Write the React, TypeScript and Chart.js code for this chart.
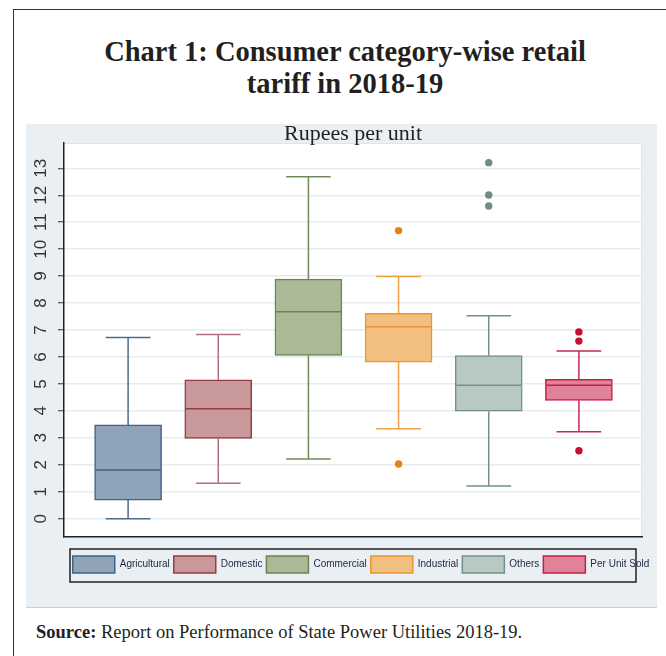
import React, { useEffect, useRef } from 'react';
import { Chart, registerables } from 'chart.js';

Chart.register(...registerables);

// ---- data ----
const categories = ['Agricultural', 'Domestic', 'Commercial', 'Industrial', 'Others', 'Per Unit Sold'];
const whiskerLow = [0.0, 1.31, 2.21, 3.34, 1.21, 3.23];
const quartile1 = [0.69, 2.98, 6.06, 5.81, 3.99, 4.39];
const medians = [1.81, 4.08, 7.68, 7.12, 4.95, 4.95];
const quartile3 = [3.48, 5.15, 8.89, 7.62, 6.05, 5.17];
const whiskerHigh = [6.72, 6.83, 12.69, 8.99, 7.53, 6.22];
const outliers: number[][] = [[], [], [], [10.69, 2.03], [13.21, 12.01, 11.6], [6.93, 6.59, 2.52]];
const yTickValues = [0, 1, 2, 3, 4, 5, 6, 7, 8, 9, 10, 11, 12, 13];
const yMin = -0.68;
const yMax = 13.94;

// ---- styles ----
const fillColors = ['#8fa4b9', '#c9989b', '#abb996', '#f1bf80', '#b8c8c2', '#e08398'];
const lineColors = ['#40618a', '#963b44', '#6b8551', '#ef9431', '#72918a', '#c81d47'];
const whiskerColors = ['#4c6c8e', '#b0737a', '#718b58', '#f0a044', '#72918a', '#c82a50'];
const outlierColors = ['#40618a', '#963b44', '#6b8551', '#e9800f', '#6e8d85', '#c4102f'];
const BOX_WIDTH = 67;

const plotBackground = {
  id: 'plotBackground',
  beforeDraw(chart: any) {
    const { ctx, chartArea: a } = chart;
    ctx.save();
    ctx.fillStyle = '#ffffff';
    ctx.fillRect(a.left, a.top, a.right - a.left, a.bottom - a.top);
    ctx.strokeStyle = '#dfe6ea';
    ctx.lineWidth = 1;
    ctx.beginPath();
    ctx.moveTo(a.left, a.top + 0.5);
    ctx.lineTo(a.right - 0.5, a.top + 0.5);
    ctx.lineTo(a.right - 0.5, a.bottom);
    ctx.stroke();
    ctx.restore();
  },
};

const boxWhiskers = {
  id: 'boxWhiskers',
  afterDatasetsDraw(chart: any) {
    const { ctx, scales } = chart;
    const xs = scales.x;
    const ys = scales.y;
    ctx.save();
    categories.forEach((_, i) => {
      const cx = xs.getPixelForValue(i);
      const half = BOX_WIDTH / 2;
      const capHalf = BOX_WIDTH / 3;
      ctx.lineWidth = 1.5;
      ctx.strokeStyle = whiskerColors[i];
      ctx.beginPath();
      ctx.moveTo(cx, ys.getPixelForValue(quartile3[i]));
      ctx.lineTo(cx, ys.getPixelForValue(whiskerHigh[i]));
      ctx.moveTo(cx - capHalf, ys.getPixelForValue(whiskerHigh[i]));
      ctx.lineTo(cx + capHalf, ys.getPixelForValue(whiskerHigh[i]));
      ctx.moveTo(cx, ys.getPixelForValue(quartile1[i]));
      ctx.lineTo(cx, ys.getPixelForValue(whiskerLow[i]));
      ctx.moveTo(cx - capHalf, ys.getPixelForValue(whiskerLow[i]));
      ctx.lineTo(cx + capHalf, ys.getPixelForValue(whiskerLow[i]));
      ctx.stroke();
      ctx.strokeStyle = lineColors[i];
      ctx.beginPath();
      ctx.moveTo(cx - half + 1, ys.getPixelForValue(medians[i]));
      ctx.lineTo(cx + half - 1, ys.getPixelForValue(medians[i]));
      ctx.stroke();
    });
    ctx.restore();
  },
};

const legendFrame = {
  id: 'legendFrame',
  afterLayout(chart: any) {
    const lg = chart.legend;
    if (lg) {
      lg.left += 27;
      lg.right += 27;
    }
  },
  afterDraw(chart: any) {
    const lg = chart.legend;
    const a = chart.chartArea;
    if (!lg) return;
    const { ctx } = chart;
    ctx.save();
    ctx.strokeStyle = '#222222';
    ctx.lineWidth = 1.5;
    ctx.strokeRect(a.left + 6, lg.top - 3, a.right - a.left - 12, 33);
    ctx.restore();
  },
};

export default function App() {
  const canvasRef = useRef<HTMLCanvasElement | null>(null);

  useEffect(() => {
    if (!canvasRef.current) return;
    const boxSets: any[] = categories.map((name, i) => ({
      type: 'bar',
      label: name,
      data: [{ x: i, y: [quartile1[i], quartile3[i]] }],
      backgroundColor: fillColors[i],
      borderColor: lineColors[i],
      borderWidth: 1.5,
      borderSkipped: false,
      grouped: false,
      barThickness: BOX_WIDTH,
      order: 2,
    }));
    const outlierSets: any[] = categories.map((name, i) => ({
      type: 'scatter',
      label: name + ' outliers',
      data: outliers[i].map((v) => ({ x: i, y: v })),
      backgroundColor: outlierColors[i],
      borderWidth: 0,
      pointRadius: 3.7,
      order: 1,
    }));

    const chart = new Chart(canvasRef.current, {
      type: 'bar',
      data: { datasets: [...boxSets, ...outlierSets] },
      options: {
        responsive: false,
        animation: false,
        events: [],
        layout: { padding: { left: 0, right: 15, top: 0, bottom: 24 } },
        scales: {
          x: {
            type: 'linear',
            min: -0.711,
            max: 5.7,
            offset: false,
            grid: { display: false, drawTicks: false },
            ticks: { display: false },
            border: { display: true, color: '#222222', width: 1.5 },
            afterFit: (scale: any) => {
              scale.height = 15;
            },
          },
          y: {
            type: 'linear',
            min: yMin,
            max: yMax,
            ticks: {
              stepSize: 1,
              minRotation: 90,
              maxRotation: 90,
              padding: 7,
              crossAlign: 'center',
              color: '#333333',
              font: { family: '"Liberation Sans", Arial, sans-serif', size: 17 },
            },
            grid: {
              color: '#e4ecf0',
              lineWidth: 1.5,
              drawTicks: true,
              tickLength: 6,
              tickColor: '#333333',
              tickWidth: 1,
            },
            border: { display: true, color: '#222222', width: 1.5 },
            afterBuildTicks: (scale: any) => {
              scale.ticks = yTickValues.map((v) => ({ value: v }));
            },
            afterFit: (scale: any) => {
              scale.width = 38;
            },
          },
        },
        plugins: {
          tooltip: { enabled: false },
          title: {
            display: true,
            text: 'Rupees per unit',
            fullSize: false,
            color: '#231f20',
            font: { family: '"Liberation Serif", serif', size: 22, weight: 'normal', lineHeight: '19px' },
            padding: { top: 1, bottom: -1 },
          },
          legend: {
            display: true,
            position: 'bottom',
            labels: {
              boxWidth: 42,
              boxHeight: 17,
              padding: 4,
              color: '#1f2540',
              font: { family: '"Liberation Sans", Arial, sans-serif', size: 10 },
              filter: (item: any) => item.datasetIndex < categories.length,
            },
          },
        },
      } as any,
      plugins: [plotBackground, boxWhiskers, legendFrame],
    });
    return () => chart.destroy();
  }, []);

  return (
    <div style={{ position: 'fixed', left: 0, top: 0, width: 666, height: 656, overflow: 'hidden', background: '#ffffff' }}>
      <div
        style={{
          position: 'absolute',
          left: 13,
          top: 9,
          width: 720,
          height: 720,
          borderLeft: '1.3px solid #333',
          borderTop: '1.3px solid #333',
        }}
      />
      <div
        style={{
          position: 'absolute',
          left: 0,
          top: 36,
          width: 690,
          textAlign: 'center',
          fontFamily: '"Liberation Serif", serif',
          fontWeight: 'bold',
          fontSize: 28.5,
          lineHeight: '32px',
          color: '#231f20',
        }}
      >
        Chart 1: Consumer category-wise retail
        <br />
        tariff in 2018-19
      </div>
      <div
        style={{
          position: 'absolute',
          left: 26,
          top: 124,
          width: 631,
          height: 483,
          background: '#e9eff2',
          borderBottom: '1px solid #c9cdd0',
        }}
      >
        <canvas ref={canvasRef} width={631} height={483} style={{ display: 'block', width: 631, height: 483 }} />
      </div>
      <div
        style={{
          position: 'absolute',
          left: 36,
          top: 622,
          whiteSpace: 'nowrap',
          fontFamily: '"Liberation Serif", serif',
          fontSize: 18.5,
          lineHeight: '20px',
          color: '#231f20',
        }}
      >
        <b>Source:</b> Report on Performance of State Power Utilities 2018-19.
      </div>
    </div>
  );
}
